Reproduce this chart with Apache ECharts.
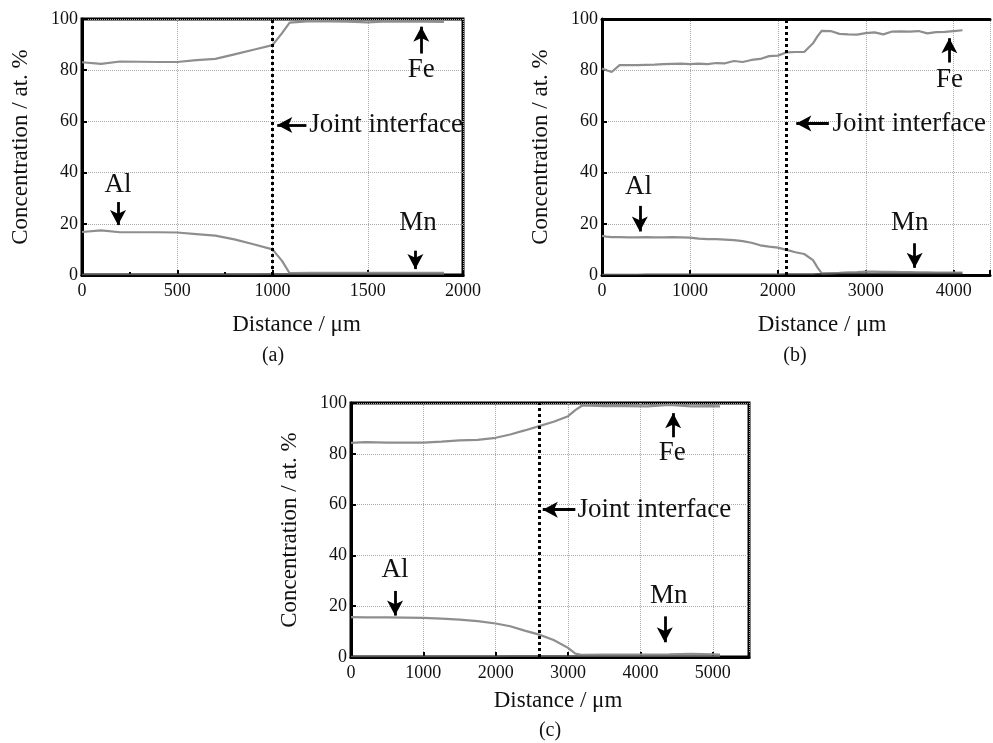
<!DOCTYPE html>
<html>
<head>
<meta charset="utf-8">
<script src="https://cdn.jsdelivr.net/npm/echarts@6/dist/echarts.min.js"></script>
<style>
  html, body { margin: 0; padding: 0; background: #fff; }
  #chart { width: 993px; height: 743px; }
</style>
</head>
<body>
<div id="chart"></div>
<script>
// Line-scan concentration profiles across three joints (a), (b), (c)

// Panel (a)
const distanceA = [0, 100, 200, 300, 400, 500, 600, 700, 800, 900, 1000, 1050, 1090, 1100, 1200, 1300, 1400, 1500, 1600, 1700, 1800, 1900];
const feA       = [83.1, 82.5, 83.4, 83.3, 83.2, 83.2, 83.9, 84.4, 86.2, 88.0, 89.8, 94.5, 98.6, 99.1, 99.2, 99.1, 99.0, 98.7, 99.1, 99.0, 99.0, 98.9];
const alA       = [16.8, 17.4, 16.7, 16.7, 16.7, 16.6, 16.0, 15.4, 13.9, 12.0, 10.0, 5.5, 0.7, 0.7, 0.8, 0.8, 0.8, 0.8, 0.8, 0.8, 0.8, 0.8];
const mnA       = [0.2, 0.2, 0.2, 0.2, 0.2, 0.2, 0.2, 0.2, 0.2, 0.2, 0.3, 0.3, 0.3, 0.3, 0.3, 0.3, 0.3, 0.3, 0.3, 0.3, 0.3, 0.3];
const interfaceA = 1000;

// Panel (b)
const distanceB = [0, 50, 110, 200, 300, 400, 500, 600, 700, 800, 900, 1000, 1100, 1200, 1300, 1400, 1500, 1600, 1700, 1800, 1900, 2000, 2100, 2200, 2300, 2400, 2450, 2500, 2600, 2700, 2800, 2900, 3000, 3100, 3200, 3300, 3400, 3500, 3600, 3700, 3800, 3900, 4000, 4100];
const feB       = [80.7, 80.0, 79.3, 82.0, 82.0, 82.0, 82.1, 82.2, 82.4, 82.5, 82.6, 82.4, 82.6, 82.4, 82.8, 82.7, 83.6, 83.2, 84.0, 84.4, 85.5, 85.7, 87.0, 87.1, 87.1, 90.5, 93.2, 95.4, 95.3, 94.2, 94.0, 93.9, 94.5, 94.8, 94.0, 95.1, 95.2, 95.1, 95.3, 94.4, 94.9, 95.0, 95.3, 95.6];
const alB       = [15.3, 15.0, 14.8, 14.8, 14.7, 14.7, 14.8, 14.7, 14.7, 14.8, 14.7, 14.6, 14.2, 14.0, 14.0, 13.8, 13.6, 13.2, 12.6, 11.6, 11.1, 10.7, 9.8, 8.9, 8.2, 5.8, 3.0, 0.6, 0.7, 0.8, 1.0, 1.1, 1.3, 1.3, 1.2, 1.2, 1.1, 1.1, 1.0, 1.0, 0.9, 0.9, 0.9, 0.9];
const mnB       = [0.2, 0.2, 0.2, 0.2, 0.2, 0.2, 0.3, 0.3, 0.3, 0.3, 0.3, 0.3, 0.3, 0.3, 0.3, 0.3, 0.3, 0.3, 0.3, 0.3, 0.3, 0.3, 0.4, 0.4, 0.4, 0.4, 0.5, 0.5, 0.5, 0.6, 0.6, 0.6, 0.6, 0.6, 0.6, 0.6, 0.6, 0.6, 0.6, 0.6, 0.6, 0.6, 0.6, 0.6];
const interfaceB = 2090;

// Panel (c)
const distanceC = [0, 200, 500, 1000, 1250, 1500, 1750, 2000, 2200, 2400, 2600, 2800, 3000, 3100, 3200, 3500, 3800, 4100, 4400, 4700, 5000, 5100];
const feC       = [84.3, 84.6, 84.4, 84.4, 84.8, 85.3, 85.5, 86.3, 87.6, 89.2, 90.9, 92.6, 94.8, 97.2, 99.1, 98.8, 98.8, 98.7, 99.3, 98.7, 98.8, 98.7];
const alC       = [15.7, 15.6, 15.6, 15.4, 15.1, 14.7, 14.1, 13.2, 12.1, 10.4, 8.8, 6.7, 3.6, 1.3, 0.8, 0.9, 0.9, 0.9, 1.0, 1.2, 1.0, 0.9];
const mnC       = [0.2, 0.2, 0.2, 0.2, 0.2, 0.2, 0.2, 0.2, 0.3, 0.3, 0.3, 0.3, 0.3, 0.3, 0.3, 0.3, 0.3, 0.3, 0.3, 0.3, 0.3, 0.3];
const interfaceC = 2600;

// Axis settings per panel; panel (b) runs off the right edge of the page
const xMaxes      = [2000, 4413, 5500];
const xIntervals  = [500, 1000, 1000];
const xLastLabels = [2000, 4000, 5000];
const yTicks      = { min: 0, max: 100, interval: 20 };
const panelLabels = ['(a)', '(b)', '(c)'];

const FONT = '"Liberation Serif", "Times New Roman", serif';
const LINE_GREY = '#8e8e8e';

const grids = [
  { left: 82,  top: 19,  width: 381, height: 256, framed: true },
  { left: 602, top: 19,  width: 391, height: 256, framed: false },
  { left: 351, top: 403, width: 398, height: 254, framed: true }
];

// Callout positions (data units) for each panel
const notes = [
  [
    { text: 'Fe', at: [1781, 80], arrow: [[1781, 86.5], [1781, 97]] },
    { text: 'Al', at: [189, 35.2], arrow: [[189, 28.5], [189, 19.5]] },
    { text: 'Mn', at: [1764, 20.5], arrow: [[1750, 9.5], [1750, 2.3]] },
    { text: 'Joint interface', at: [1190, 58.6], left: true, arrow: [[1178, 58.6], [1025, 58.6]] }
  ],
  [
    { text: 'Fe', at: [3951, 76.2], arrow: [[3951, 83], [3951, 92.5]] },
    { text: 'Al', at: [414, 34.5], arrow: [[430, 27], [430, 17]] },
    { text: 'Mn', at: [3500, 20.2], arrow: [[3556, 12.4], [3556, 2.8]] },
    { text: 'Joint interface', at: [2615, 59.2], left: true, arrow: [[2580, 59.2], [2210, 59.2]] }
  ],
  [
    { text: 'Fe', at: [4438, 80.3], arrow: [[4452, 86.5], [4452, 96]] },
    { text: 'Al', at: [609, 34.4], arrow: [[609, 26], [609, 16.3]] },
    { text: 'Mn', at: [4392, 23.9], arrow: [[4336, 16], [4336, 5.8]] },
    { text: 'Joint interface', at: [3123, 58], left: true, arrow: [[3100, 58], [2650, 58]] }
  ]
];

const distances  = [distanceA, distanceB, distanceC];
const feSets     = [feA, feB, feC];
const alSets     = [alA, alB, alC];
const mnSets     = [mnA, mnB, mnC];
const interfaces = [interfaceA, interfaceB, interfaceC];

const pairs = (xs, ys) => xs.map((x, i) => [x, ys[i]]);

const xAxes = grids.map((g, i) => ({
  type: 'value',
  gridIndex: i,
  min: 0,
  max: xMaxes[i],
  interval: xIntervals[i],
  name: 'Distance / μm',
  nameLocation: 'middle',
  nameGap: i === 2 ? 32 : 38,
  nameTextStyle: {
    fontFamily: FONT, fontSize: 23, color: '#111',
    padding: [0, 0, 0, [48, 52, 16][i]]
  },
  axisLine: { show: true, onZero: false, lineStyle: { color: '#000', width: 3 } },
  axisTick: { show: true, inside: true, length: 5, lineStyle: { color: '#000', width: 2 } },
  minorTick: { show: i === 0, splitNumber: 2, length: 3, lineStyle: { color: '#000', width: 2 } },
  splitLine: { show: true, lineStyle: { color: '#aaa', type: 'dotted', width: 1 } },
  axisLabel: {
    fontFamily: FONT, fontSize: 18, color: '#111', margin: 7,
    showMaxLabel: true,
    formatter: v => (v % xIntervals[i] === 0 && v <= xLastLabels[i]) ? String(v) : ''
  }
}));

// Top frame edge for the unframed panel (b)
xAxes.push({
  type: 'value',
  gridIndex: 1,
  position: 'top',
  min: 0,
  max: xMaxes[1],
  axisLine: { show: true, onZero: false, lineStyle: { color: '#000', width: 3 } },
  axisTick: { show: false },
  axisLabel: { show: false },
  splitLine: { show: false }
});

const yAxes = grids.map((g, i) => ({
  type: 'value',
  gridIndex: i,
  min: yTicks.min,
  max: yTicks.max,
  interval: yTicks.interval,
  name: 'Concentration / at. %',
  nameLocation: 'middle',
  nameGap: 50,
  nameTextStyle: { fontFamily: FONT, fontSize: 23, color: '#111' },
  axisLine: { show: true, lineStyle: { color: '#000', width: 3 } },
  axisTick: { show: true, inside: true, length: 5, lineStyle: { color: '#000', width: 2 } },
  splitLine: { show: true, lineStyle: { color: '#aaa', type: 'dotted', width: 1 } },
  axisLabel: { fontFamily: FONT, fontSize: 18, color: '#111', margin: 4 }
}));

const series = [];
grids.forEach((g, i) => {
  const base = {
    type: 'line',
    xAxisIndex: i,
    yAxisIndex: i,
    symbol: 'none',
    smooth: false,
    silent: true,
    animation: false
  };
  series.push(Object.assign({}, base, {
    name: 'Fe',
    data: pairs(distances[i], feSets[i]),
    lineStyle: { color: LINE_GREY, width: 2.2 }
  }));
  series.push(Object.assign({}, base, {
    name: 'Al',
    data: pairs(distances[i], alSets[i]),
    lineStyle: { color: LINE_GREY, width: 2.2 }
  }));

  // Joint interface line plus labelled arrows
  const lineItems = [
    [
      { coord: [interfaces[i], 0], symbol: 'none' },
      { coord: [interfaces[i], 100], symbol: 'none',
        lineStyle: { color: '#000', type: [3, 3], width: 3 } }
    ]
  ];
  notes[i].forEach(n => {
    lineItems.push([
      { coord: n.arrow[0], symbol: 'none' },
      { coord: n.arrow[1], symbol: 'arrow' }
    ]);
  });

  series.push(Object.assign({}, base, {
    name: 'Mn',
    data: pairs(distances[i], mnSets[i]),
    lineStyle: { color: '#555', width: 1.5 },
    z: 3,
    markLine: {
      silent: true,
      animation: false,
      symbol: ['none', 'arrow'],
      symbolSize: [12, 15],
      label: { show: false },
      lineStyle: { color: '#000', type: 'solid', width: 2.8 },
      data: lineItems
    },
    markPoint: {
      silent: true,
      animation: false,
      symbol: 'circle',
      symbolSize: 1,
      itemStyle: { color: 'rgba(0,0,0,0)' },
      data: notes[i].map(n => ({
        coord: n.at,
        label: {
          show: true,
          formatter: n.text,
          position: n.left ? 'right' : 'inside',
          distance: 0,
          fontFamily: FONT,
          fontSize: 27,
          color: '#111'
        }
      }))
    }
  }));
});

// Panel captions
const captionPos = [[273, 356], [795, 356], [550, 731]];
const graphic = panelLabels.map((t, i) => ({
  type: 'text',
  x: captionPos[i][0],
  y: captionPos[i][1],
  style: {
    text: t, fontFamily: FONT, fontSize: 20, fill: '#111',
    align: 'center', verticalAlign: 'middle'
  }
}));

const chart = echarts.init(document.getElementById('chart'), null, { renderer: 'canvas' });
chart.setOption({
  backgroundColor: '#fff',
  animation: false,
  grid: grids.map(g => ({
    left: g.left, top: g.top, width: g.width, height: g.height,
    show: g.framed, borderColor: '#000', borderWidth: 3,
    backgroundColor: 'transparent', containLabel: false
  })),
  xAxis: xAxes,
  yAxis: yAxes,
  series: series,
  graphic: graphic
});
</script>
</body>
</html>
